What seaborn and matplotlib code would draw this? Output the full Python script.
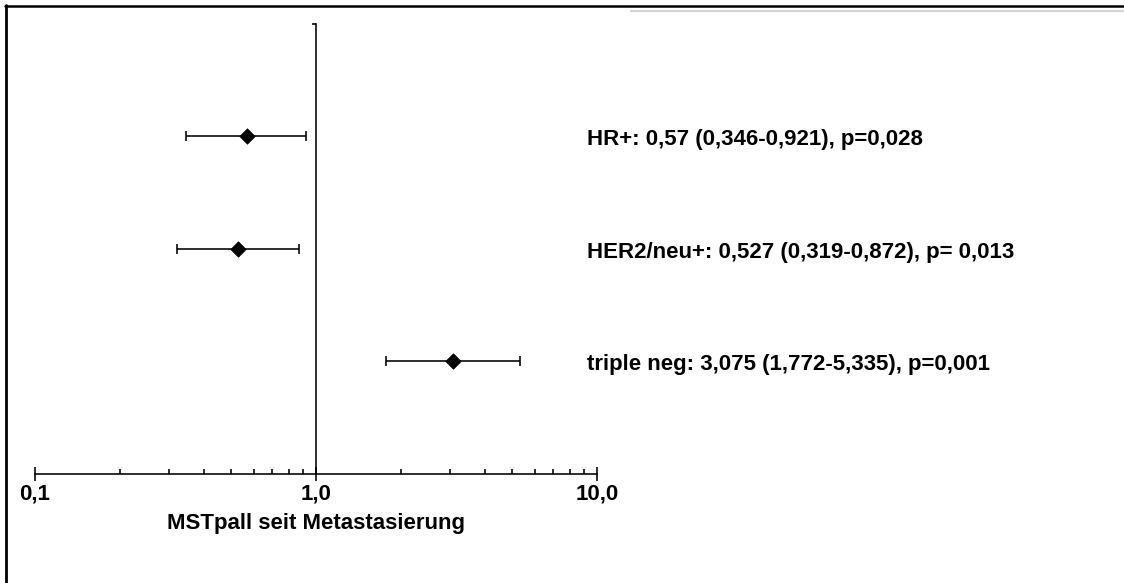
import matplotlib
matplotlib.use("Agg")
import matplotlib.pyplot as plt
import seaborn as sns
import pandas as pd
import numpy as np
from matplotlib.lines import Line2D
from matplotlib.ticker import FixedLocator, FixedFormatter, LogLocator, NullFormatter

# ---- data ----
groups = ["HR+", "HER2/neu+", "triple neg"]
hazard_ratio = [0.57, 0.527, 3.075]
ci_low = [0.346, 0.319, 1.772]
ci_high = [0.921, 0.872, 5.335]
row_pos = [3, 2, 1]
annotations = [
    "HR+: 0,57 (0,346-0,921), p=0,028",
    "HER2/neu+: 0,527 (0,319-0,872), p= 0,013",
    "triple neg: 3,075 (1,772-5,335), p=0,001",
]
x_ticks = [0.1, 1.0, 10.0]
x_tick_labels = ["0,1", "1,0", "10,0"]
x_label = "MSTpall seit Metastasierung"

df = pd.DataFrame({"group": groups, "hr": hazard_ratio, "lo": ci_low,
                   "hi": ci_high, "y": row_pos})

sns.set_theme(style="white")
plt.rcParams["font.family"] = ["Liberation Sans", "DejaVu Sans"]
plt.rcParams["font.weight"] = "bold"

W, H = 1124, 583
fig = plt.figure(figsize=(W / 100, H / 100), dpi=100)
fig.patch.set_facecolor("white")

ax_left, ax_right = 35, 597
ax_top, ax_bottom = 24, 473.5
ax = fig.add_axes([ax_left / W, (H - ax_bottom) / H,
                   (ax_right - ax_left) / W, (ax_bottom - ax_top) / H])
ax.set_facecolor("white")

lw = 1.15
# confidence intervals
ax.errorbar(df["hr"], df["y"],
            xerr=[df["hr"] - df["lo"], df["hi"] - df["hr"]],
            fmt="none", ecolor="black", elinewidth=lw, capsize=3.4,
            capthick=lw, zorder=2)
# point estimates
sns.scatterplot(data=df, x="hr", y="y", marker="D", s=62, color="black",
                edgecolor="black", linewidth=0.5, ax=ax, zorder=3, legend=False)

ax.set_xscale("log")
ax.set_xlim(0.1, 10)
ax.set_ylim(0, 4)

for s in ["top", "right"]:
    ax.spines[s].set_visible(False)
ax.spines["left"].set_position(("data", 1.0))
for s in ["left", "bottom"]:
    ax.spines[s].set_color("black")
    ax.spines[s].set_linewidth(lw)

ax.xaxis.set_major_locator(FixedLocator(x_ticks))
ax.xaxis.set_major_formatter(FixedFormatter(x_tick_labels))
ax.xaxis.set_minor_locator(LogLocator(base=10, subs=np.arange(2, 10)))
ax.xaxis.set_minor_formatter(NullFormatter())
ax.tick_params(axis="x", which="major", direction="inout", length=10,
               width=lw, color="black", pad=2, labelsize=16, labelcolor="black")
ax.tick_params(axis="x", which="minor", direction="in", length=3.5,
               width=lw, color="black")
ax.set_yticks([4])
ax.set_yticklabels([""])
ax.tick_params(axis="y", which="major", direction="out", length=3,
               width=lw, color="black")
ax.tick_params(axis="x", which="both", bottom=True)
ax.tick_params(axis="y", which="both", left=True)
for lab in ax.get_xticklabels():
    lab.set_fontweight("bold")

ax.set_xlabel(x_label, fontsize=16, fontweight="bold", color="black", labelpad=6)
ax.set_ylabel("")

# annotations to the right
trans = ax.get_yaxis_transform()  # x in axes, y in data
for txt, yv in zip(annotations, row_pos):
    ax.text((587 - ax_left) / (ax_right - ax_left), yv - 0.03, txt,
            transform=trans, ha="left", va="center", fontsize=16,
            fontweight="bold", color="black", clip_on=False)

# frame lines of the picture
fig.add_artist(Line2D([5 / W, 1], [1 - 5.5 / H, 1 - 5.5 / H],
                      transform=fig.transFigure, color="black", lw=1.8))
fig.add_artist(Line2D([5.5 / W, 5.5 / W], [0, 1 - 5 / H],
                      transform=fig.transFigure, color="black", lw=2.0))
fig.add_artist(Line2D([631 / W, 1], [1 - 10.5 / H, 1 - 10.5 / H],
                      transform=fig.transFigure, color="#d3d3d3", lw=1.5))

fig.savefig("out.png", dpi=100, facecolor="white")
